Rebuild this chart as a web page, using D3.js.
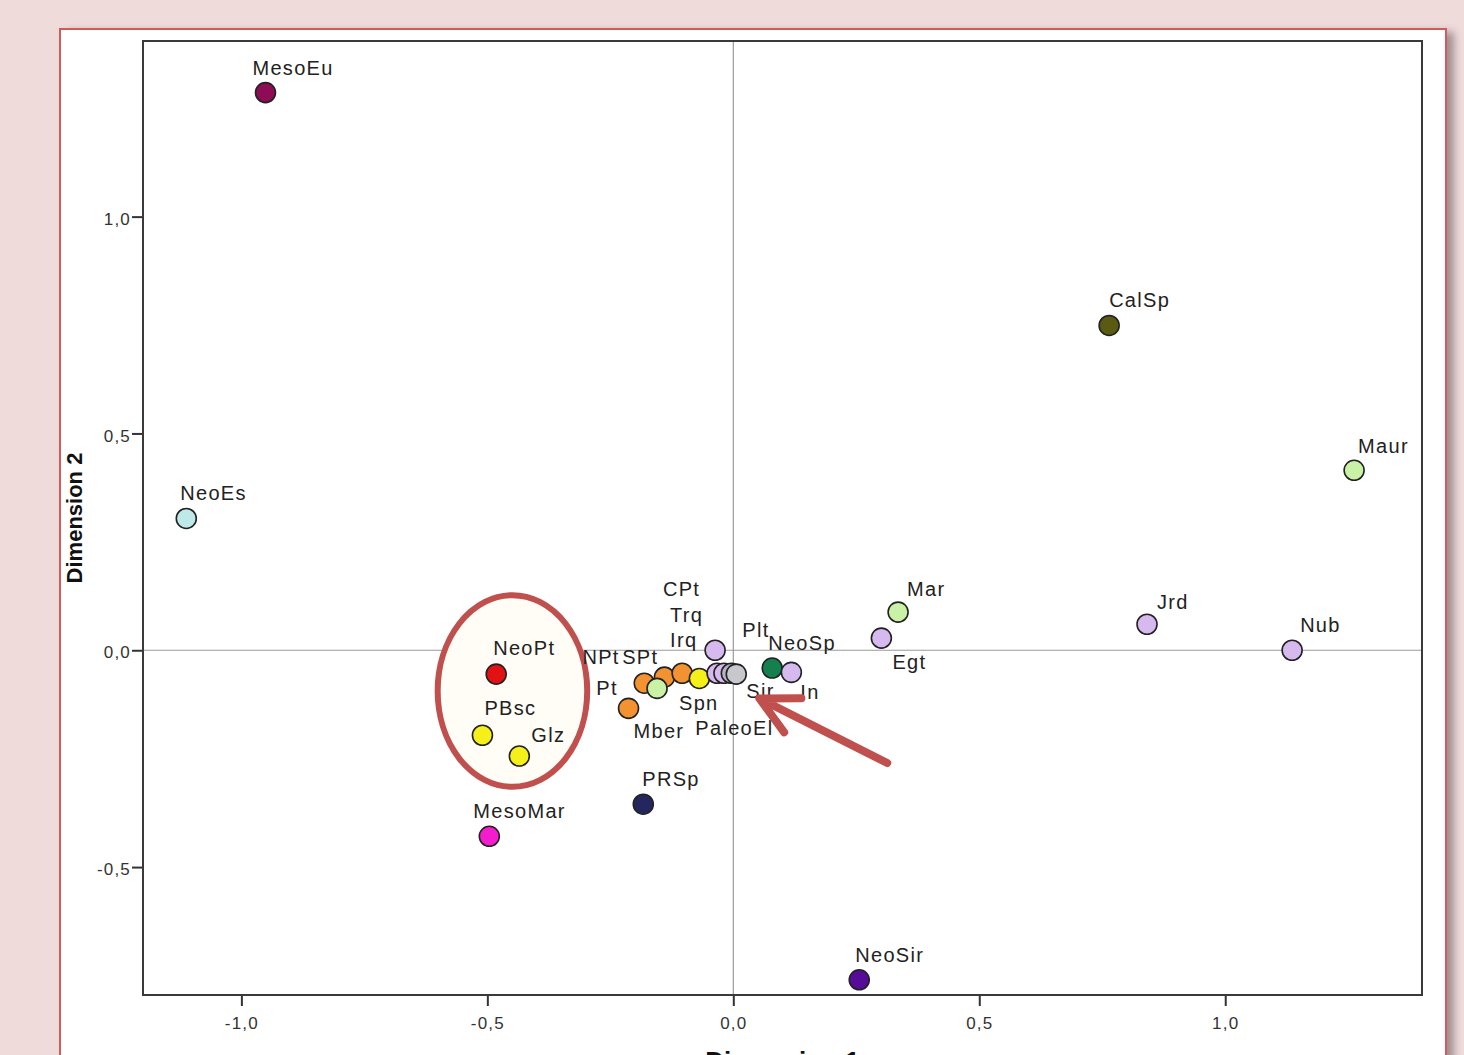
<!DOCTYPE html>
<html>
<head>
<meta charset="utf-8">
<script src="https://cdn.jsdelivr.net/npm/d3@7"></script>
<style>
  body { margin: 0; background: #f0dbdb; overflow: hidden; }
  svg { display: block; }
</style>
</head>
<body>
<div id="chart"></div>
<script>
// point names and coordinates (Dimension 1, Dimension 2)
var names = ["MesoEu", "NeoEs", "CalSp", "Maur", "Mar", "Egt", "Jrd", "Nub",
  "NeoPt", "PBsc", "Glz", "MesoMar", "PRSp", "NeoSir",
  "Mber", "Pt", "NPt", "SPt", "Spn", "PaleoEl", "Irq", "Trq", "CPt", "Plt", "Sir", "NeoSp", "In"];
var dim1 = [-0.951, -1.112, 0.764, 1.262, 0.335, 0.301, 0.841, 1.136,
  -0.482, -0.510, -0.435, -0.496, -0.183, 0.256,
  -0.213, -0.181, -0.140, -0.104, -0.155, -0.069, -0.037, -0.033, -0.019, -0.004, 0.006, 0.079, 0.118];
var dim2 = [1.286, 0.304, 0.749, 0.415, 0.088, 0.028, 0.060, 0.0,
  -0.055, -0.196, -0.244, -0.429, -0.355, -0.760,
  -0.134, -0.076, -0.062, -0.053, -0.088, -0.065, 0.0, -0.053, -0.053, -0.053, -0.055, -0.041, -0.051];

var xTicks = [-1.0, -0.5, 0.0, 0.5, 1.0];
var yTicks = [-0.5, 0.0, 0.5, 1.0];

// fill colour per point
var pointColor = {
  MesoEu: "#8e0b55", NeoEs: "#bfe8e8", CalSp: "#5b5a12", Maur: "#c9f2a6", Mar: "#c9f2a6",
  Egt: "#d6b9ee", Jrd: "#d6b9ee", Nub: "#d6b9ee", NeoPt: "#e31212", PBsc: "#f5f01a",
  Glz: "#f5f01a", MesoMar: "#f51ccd", PRSp: "#24275e", NeoSir: "#560c98",
  Mber: "#f39231", Pt: "#f39231", NPt: "#f39231", SPt: "#f39231", Spn: "#c9f2a6",
  PaleoEl: "#f5f01a", Irq: "#d6b9ee", Trq: "#d6b9ee", CPt: "#d6b9ee", Plt: "#b8b3c4",
  Sir: "#c8c8cc", NeoSp: "#14804e", In: "#d6b9ee"
};

// label offset (px) from each point: start of text, baseline
var labelNudge = {
  MesoEu: [-13, -18], NeoEs: [-6, -18], CalSp: [0, -18], Maur: [4, -17], Mar: [9, -16],
  Egt: [11, 31], Jrd: [10, -15], Nub: [8, -18], NeoPt: [-3, -19], PBsc: [2, -20],
  Glz: [12, -14], MesoMar: [-16, -18], PRSp: [-1, -18], NeoSir: [-4, -18],
  Mber: [5, 30], Pt: [-48, 12], NPt: [-82, -13], SPt: [-60, -9], Spn: [22, 22],
  PaleoEl: [-4, 57], Irq: [-45, -3], Trq: [-47, -51], CPt: [-61, -77], Plt: [11, -36],
  Sir: [10, 24], NeoSp: [-4, -18], In: [9, 27]
};

var data = names.map(function(n, i) { return {name: n, x: dim1[i], y: dim2[i]}; });

var W = 1464, H = 1055;
var margin = {top: 41, right: 42, bottom: 60, left: 143},
    width = W - margin.left - margin.right,
    height = H - margin.top - margin.bottom;

var fmt = d3.formatLocale({decimal: ",", thousands: ".", grouping: [3], currency: ["", ""], minus: "-"}).format(".1f");

var root = d3.select("#chart")
  .append("svg")
    .attr("width", W)
    .attr("height", H);

// shadow for the white panel
var defs = root.append("defs");
var f = defs.append("filter").attr("id", "shadow").attr("x", "-5%").attr("y", "-5%").attr("width", "110%").attr("height", "110%");
f.append("feDropShadow").attr("dx", 7).attr("dy", 4).attr("stdDeviation", 4).attr("flood-color", "#000").attr("flood-opacity", 0.35);

root.append("rect")
  .attr("x", 60).attr("y", 29)
  .attr("width", 1386).attr("height", 1060)
  .attr("fill", "#fff")
  .attr("stroke", "#d5595a")
  .attr("stroke-width", 2)
  .attr("filter", "url(#shadow)");

var svg = root.append("g")
  .attr("transform", "translate(" + margin.left + "," + margin.top + ")");

var x = d3.scaleLinear().domain([-1.2, 1.4]).range([0, width]);
var y = d3.scaleLinear().domain([-0.795, 1.405]).range([height, 0]);

// reference lines at 0
svg.append("line")
  .attr("x1", x(0)).attr("x2", x(0)).attr("y1", 0).attr("y2", height)
  .attr("stroke", "#9a9a9a").attr("stroke-width", 1.2);
svg.append("line")
  .attr("x1", 0).attr("x2", width).attr("y1", y(0)).attr("y2", y(0))
  .attr("stroke", "#9a9a9a").attr("stroke-width", 1.2);

// highlight ellipse (annotation)
svg.append("ellipse")
  .attr("cx", x(-0.449)).attr("cy", y(-0.094))
  .attr("rx", x(-0.449 + 0.152) - x(-0.449))
  .attr("ry", y(-0.094 - 0.221) - y(-0.094))
  .attr("fill", "#fffdf6")
  .attr("stroke", "#c0504d")
  .attr("stroke-width", 6);

// axes
var xAxis = svg.append("g")
  .attr("transform", "translate(0," + height + ")")
  .call(d3.axisBottom(x).tickValues(xTicks).tickFormat(fmt).tickSize(11).tickSizeOuter(0));
var yAxis = svg.append("g")
  .call(d3.axisLeft(y).tickValues(yTicks).tickFormat(fmt).tickSize(11).tickSizeOuter(0));

[xAxis, yAxis].forEach(function(a) {
  a.select(".domain").remove();
  a.selectAll("line").attr("stroke", "#333").attr("stroke-width", 2);
  a.selectAll("text")
    .style("font-family", "'Liberation Sans', Arial, sans-serif")
    .style("font-size", "17px")
    .style("letter-spacing", "1.2px")
    .attr("fill", "#333");
});
xAxis.selectAll("text").attr("dy", "1.2em");
yAxis.selectAll("text").attr("x", -12).attr("dy", "0.45em");

// frame
svg.append("rect")
  .attr("width", width).attr("height", height)
  .attr("fill", "none")
  .attr("stroke", "#3a3a3a")
  .attr("stroke-width", 2);

// points
svg.append("g")
  .selectAll("circle")
  .data(data)
  .enter()
  .append("circle")
    .attr("cx", function(d) { return x(d.x); })
    .attr("cy", function(d) { return y(d.y); })
    .attr("r", 10)
    .attr("fill", function(d) { return pointColor[d.name]; })
    .attr("stroke", "#222")
    .attr("stroke-width", 1.6);

// point labels
svg.append("g")
  .selectAll("text")
  .data(data)
  .enter()
  .append("text")
    .attr("x", function(d) { return x(d.x) + labelNudge[d.name][0]; })
    .attr("y", function(d) { return y(d.y) + labelNudge[d.name][1]; })
    .text(function(d) { return d.name; })
    .style("font-family", "'Liberation Sans', Arial, sans-serif")
    .style("font-size", "20px")
    .style("letter-spacing", "1.3px")
    .attr("fill", "#222");

// arrow annotation pointing at Sir
var tip = [x(0.053), y(-0.111)], tail = [x(0.313), y(-0.260)];
var ang = Math.atan2(tail[1] - tip[1], tail[0] - tip[0]);
var arm = 42, spread = 27 * Math.PI / 180;
svg.append("path")
  .attr("d", "M" + tail + "L" + tip +
    "M" + [tip[0] + arm * Math.cos(ang - spread), tip[1] + arm * Math.sin(ang - spread)] + "L" + tip +
    "L" + [tip[0] + arm * Math.cos(ang + spread), tip[1] + arm * Math.sin(ang + spread)])
  .attr("fill", "none")
  .attr("stroke", "#c0504d")
  .attr("stroke-width", 8)
  .attr("stroke-linecap", "round")
  .attr("stroke-linejoin", "round");

// axis titles (x title sits partly below the visible area, as in the original)
svg.append("text")
  .attr("text-anchor", "middle")
  .attr("x", width / 2)
  .attr("y", height + 75)
  .text("Dimension 1")
  .style("font-family", "'Liberation Sans', Arial, sans-serif")
  .style("font-weight", "bold")
  .style("font-size", "26px")
  .attr("fill", "#111");

svg.append("text")
  .attr("text-anchor", "middle")
  .attr("transform", "translate(" + (-61) + "," + (height / 2) + ") rotate(-90)")
  .text("Dimension 2")
  .style("font-family", "'Liberation Sans', Arial, sans-serif")
  .style("font-weight", "bold")
  .style("font-size", "22px")
  .attr("fill", "#111");
</script>
</body>
</html>
